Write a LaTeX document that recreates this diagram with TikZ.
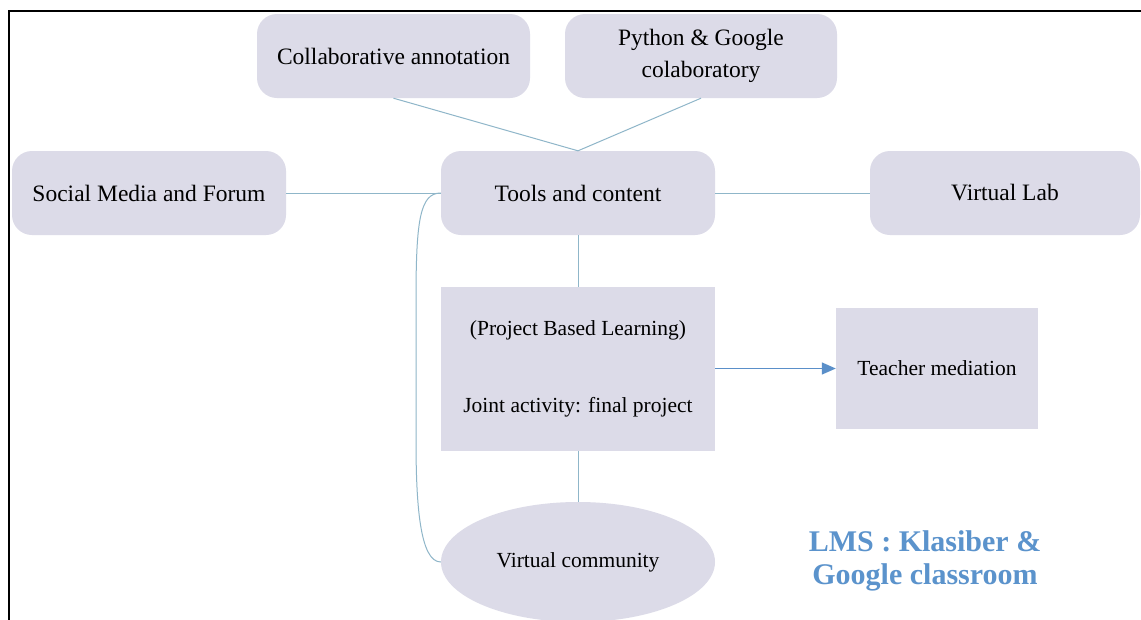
\documentclass[tikz,border=0pt]{standalone}
\usepackage{fontspec}
\setmainfont{Liberation Serif}
\usetikzlibrary{arrows.meta,shapes.geometric}
\definecolor{boxfill}{HTML}{DCDBE8}
\definecolor{linkc}{HTML}{8FB6C9}
\definecolor{arrowc}{HTML}{5A8FC9}
\definecolor{lmsc}{HTML}{5B93CC}
\tikzset{
  rbox/.style={rectangle, rounded corners=20pt, fill=boxfill, inner sep=0pt, align=center},
  sbox/.style={rectangle, fill=boxfill, inner sep=0pt, align=center},
  link/.style={draw=linkc, line width=1pt},
  bigtext/.style={font=\fontsize{23.5}{32}\selectfont},
  midtext/.style={font=\fontsize{21.5}{26}\selectfont},
}
\begin{document}
\begin{tikzpicture}[x=1pt,y=-1pt]
\useasboundingbox (0,0) rectangle (1141,619);
\fill[white] (0,0) rectangle (1141,619);
% frame
\draw[line width=2pt, black] (9,640) -- (9,11) -- (1150,11);
% nodes
\node[rbox, bigtext, minimum width=273pt, minimum height=84pt] (collab) at (393.5,56) {Collaborative annotation};
\node[rbox, bigtext, minimum width=272pt, minimum height=84pt] (python) at (701,56) {Python \& Google\\colaboratory};
\node[rbox, bigtext, minimum width=274pt, minimum height=84pt] (social) at (149,193) {Social Media and Forum};
\node[rbox, bigtext, minimum width=274pt, minimum height=84pt] (tools) at (578,193) {Tools and content};
\node[rbox, bigtext, minimum width=270pt, minimum height=84pt] (vlab) at (1005,193) {Virtual Lab};
\node[sbox, font=\fontsize{21.5}{77}\selectfont, minimum width=274pt, minimum height=164pt] (pbl) at (578,369) {(Project Based Learning)\\Joint activity: final project};
\node[sbox, midtext, minimum width=202pt, minimum height=121pt] (teacher) at (937,368.5) {Teacher mediation};
\node[ellipse, fill=boxfill, inner sep=0pt, midtext, minimum width=274pt, minimum height=120pt] (vc) at (578,562) {Virtual community};
\node[align=center, text=lmsc, font=\fontsize{30}{33}\bfseries\selectfont] (lms) at (925,561) {LMS : Klasiber \&\\Google classroom};
% connectors
\draw[link] (collab.south) -- (tools.north);
\draw[link] (python.south) -- (tools.north);
\draw[link] (social.east) -- (tools.west);
\draw[link] (tools.east) -- (vlab.west);
\draw[link] (tools.south) -- (pbl.north);
\draw[link] (pbl.south) -- (vc.north);
\draw[link] (tools.west) .. controls (420,193) and (416,220) .. (416,300)
  -- (416,440) .. controls (416,505) and (420,562) .. (vc.west);
\draw[draw=arrowc, line width=1.3pt, -{Triangle[length=14pt,width=12pt]}] (pbl.east |- teacher.west) -- (teacher.west);
\end{tikzpicture}
\end{document}
